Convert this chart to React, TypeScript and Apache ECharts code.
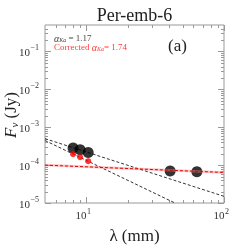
import React, { useEffect, useRef } from 'react';
import * as echarts from 'echarts';

// Data
const blackLambda = [8.0, 9.0, 10.3, 40.6, 63.5];
const blackFlux = [2.85e-4, 2.53e-4, 2.16e-4, 6.95e-5, 6.67e-5];
const redLambda = [8.0, 9.0, 10.3];
const redFlux = [1.95e-4, 1.62e-4, 1.27e-4];
const fitKaLambda = [5, 100];
const fitKaFlux = [5.0e-4, 1.5e-5];
const fitCorrLambda = [5, 44];
const fitCorrFlux = [4.46e-4, 1.0e-5];
const redFitLambda = [5, 100];
const redFitFlux = [1.0e-4, 6.4e-5];

// Axis ticks
const xMajorTicks = [10, 100];
const xMajorExp = ['1', '2'];
const xMinorTicks = [6, 7, 8, 9, 20, 30, 40, 50, 60, 70, 80, 90];
const yMajorTicks = [1e-5, 1e-4, 1e-3, 1e-2, 1e-1];
const yMajorExp = ['−5', '−4', '−3', '−2', '−1'];
const yMinorMult = [2, 3, 4, 5, 6, 7, 8, 9];
const yMinorTicks: number[] = [];
yMajorTicks.forEach((d) => yMinorMult.forEach((m) => { if (d * m < 0.5) yMinorTicks.push(d * m); }));

const FONT = 'Liberation Serif';
const AXIS_COLOR = '#999';
const TEXT_COLOR = '#333';

let measureCtx: CanvasRenderingContext2D | null = null;
function textWidth(text: string, size: number, italic: boolean) {
  if (!measureCtx) measureCtx = document.createElement('canvas').getContext('2d');
  if (!measureCtx) return text.length * size * 0.5;
  measureCtx.font = `${italic ? 'italic ' : ''}${size}px ${FONT}`;
  return measureCtx.measureText(text).width;
}

type Piece = { text: string; size: number; italic?: boolean; dy?: number };
function inlineText(pieces: Piece[], x: number, y: number, fill: string) {
  const out: any[] = [];
  let cx = x;
  pieces.forEach((p) => {
    out.push({ type: 'text', x: cx, y: y + (p.dy || 0), style: { text: p.text, align: 'left', verticalAlign: 'middle', fontSize: p.size, fontStyle: p.italic ? 'italic' : 'normal', fontFamily: FONT, fill } });
    cx += textWidth(p.text, p.size, !!p.italic);
  });
  return out;
}

export default function App() {
  const ref = useRef<HTMLDivElement>(null);
  useEffect(() => {
    if (!ref.current) return;
    const chart = echarts.init(ref.current, null, { renderer: 'svg' });
    const pairs = (xs: number[], ys: number[]) => xs.map((x, i) => [x, ys[i]]);

    const renderTicks = (params: any, api: any) => {
      const cs = params.coordSys;
      const left = cs.x, top = cs.y, right = cs.x + cs.width, bottom = cs.y + cs.height;
      const children: any[] = [];
      const ln = (x1: number, y1: number, x2: number, y2: number) => children.push({
        type: 'line', shape: { x1, y1, x2, y2 }, style: { stroke: AXIS_COLOR, lineWidth: 1 },
      });
      xMajorTicks.forEach((v, i) => {
        const px = Math.round(api.coord([v, 1e-3])[0]) + 0.5;
        ln(px, bottom, px, bottom - 6); ln(px, top, px, top + 6);
        children.push({ type: 'text', x: px, y: bottom + 12, style: { text: '10', align: 'right', verticalAlign: 'middle', fontSize: 11, fontFamily: FONT, fill: TEXT_COLOR } });
        children.push({ type: 'text', x: px + 0.5, y: bottom + 8.5, style: { text: xMajorExp[i], align: 'left', verticalAlign: 'middle', fontSize: 8, fontFamily: FONT, fill: TEXT_COLOR } });
      });
      xMinorTicks.forEach((v) => {
        const px = Math.round(api.coord([v, 1e-3])[0]) + 0.5;
        ln(px, bottom, px, bottom - 3); ln(px, top, px, top + 3);
      });
      yMajorTicks.forEach((v, i) => {
        const py = Math.round(api.coord([10, v])[1]) + 0.5;
        ln(left, py, left + 6, py); ln(right, py, right - 6, py);
        children.push({ type: 'text', x: 30, y: py, style: { text: '10', align: 'right', verticalAlign: 'middle', fontSize: 11, fontFamily: FONT, fill: TEXT_COLOR } });
        children.push({ type: 'text', x: 30.5, y: py - 4, style: { text: yMajorExp[i], align: 'left', verticalAlign: 'middle', fontSize: 8, fontFamily: FONT, fill: TEXT_COLOR } });
      });
      yMinorTicks.forEach((v) => {
        const py = Math.round(api.coord([10, v])[1]) + 0.5;
        ln(left, py, left + 3, py); ln(right, py, right - 3, py);
      });
      return { type: 'group', children };
    };

    const legend1 = inlineText([
      { text: 'α', size: 10, italic: true },
      { text: 'Ka', size: 6, italic: true, dy: 2 },
      { text: ' = 1.17', size: 9 },
    ], 54, 38, '#444');
    const legend2 = inlineText([
      { text: 'Corrected ', size: 9 },
      { text: 'α', size: 10, italic: true },
      { text: 'Ka', size: 6, italic: true, dy: 2 },
      { text: '= 1.74', size: 9 },
    ], 54, 47, '#ff3b3b');

    // y-axis title, rotated: F_nu (Jy)
    const yTitleW = textWidth('F', 17, true) + textWidth('ν', 11, true) + textWidth(' (Jy)', 17, false);
    let yx = -yTitleW / 2;
    const yTitleChildren: any[] = [];
    [{ t: 'F', s: 17, i: true, dy: 0 }, { t: 'ν', s: 11, i: true, dy: 4 }, { t: ' (Jy)', s: 17, i: false, dy: 0 }].forEach((p) => {
      yTitleChildren.push({ type: 'text', x: yx, y: p.dy, style: { text: p.t, align: 'left', verticalAlign: 'middle', fontSize: p.s, fontStyle: p.i ? 'italic' : 'normal', fontFamily: FONT, fill: '#222' } });
      yx += textWidth(p.t, p.s, p.i);
    });

    chart.setOption({
      animation: false,
      grid: { left: 45, right: 25, top: 25, bottom: 46, show: true, borderColor: AXIS_COLOR, borderWidth: 1, backgroundColor: 'transparent' },
      xAxis: { type: 'log', logBase: 10, min: 5, max: 100, axisLine: { show: false }, axisTick: { show: false }, axisLabel: { show: false }, splitLine: { show: false } },
      yAxis: { type: 'log', logBase: 10, min: 1e-5, max: 0.5, axisLine: { show: false }, axisTick: { show: false }, axisLabel: { show: false }, splitLine: { show: false } },
      series: [
        { type: 'custom', renderItem: renderTicks, data: [[10, 1e-3]], clip: false, silent: true, z: 1 },
        { type: 'line', data: pairs(fitKaLambda, fitKaFlux), symbol: 'none', lineStyle: { color: '#333', width: 1, type: [3, 2] }, z: 2 },
        { type: 'line', data: pairs(fitCorrLambda, fitCorrFlux), symbol: 'none', lineStyle: { color: '#333', width: 1, type: [3, 2] }, z: 2 },
        { type: 'scatter', data: pairs(blackLambda, blackFlux), symbolSize: 11, itemStyle: { color: '#000' }, z: 3 },
        { type: 'scatter', data: pairs(redLambda, redFlux), symbolSize: 6, itemStyle: { color: '#ff0000' }, z: 4 },
        { type: 'line', data: pairs(redFitLambda, redFitFlux), symbol: 'none', lineStyle: { color: 'rgba(255,120,120,0.45)', width: 2.5 }, z: 5 },
        { type: 'line', data: pairs(redFitLambda, redFitFlux), symbol: 'none', lineStyle: { color: '#dd0000', width: 1, type: [3, 2] }, z: 6 },
      ],
      graphic: [
        { type: 'text', x: 134.5, y: 15, style: { text: 'Per-emb-6', align: 'center', verticalAlign: 'middle', fontSize: 18, fontFamily: FONT, fill: '#222' } },
        { type: 'text', x: 177.5, y: 45, style: { text: '(a)', align: 'center', verticalAlign: 'middle', fontSize: 17, fontFamily: FONT, fill: '#222' } },
        ...legend1,
        ...legend2,
        { type: 'group', x: 10, y: 115, rotation: Math.PI / 2, children: yTitleChildren },
        { type: 'text', x: 134.5, y: 235, style: { text: 'λ (mm)', align: 'center', verticalAlign: 'middle', fontSize: 17, fontFamily: FONT, fill: '#222' } },
      ],
    });
    return () => chart.dispose();
  }, []);
  return <div ref={ref} style={{ position: 'fixed', left: 0, top: 0, width: 249, height: 249 }} />;
}
